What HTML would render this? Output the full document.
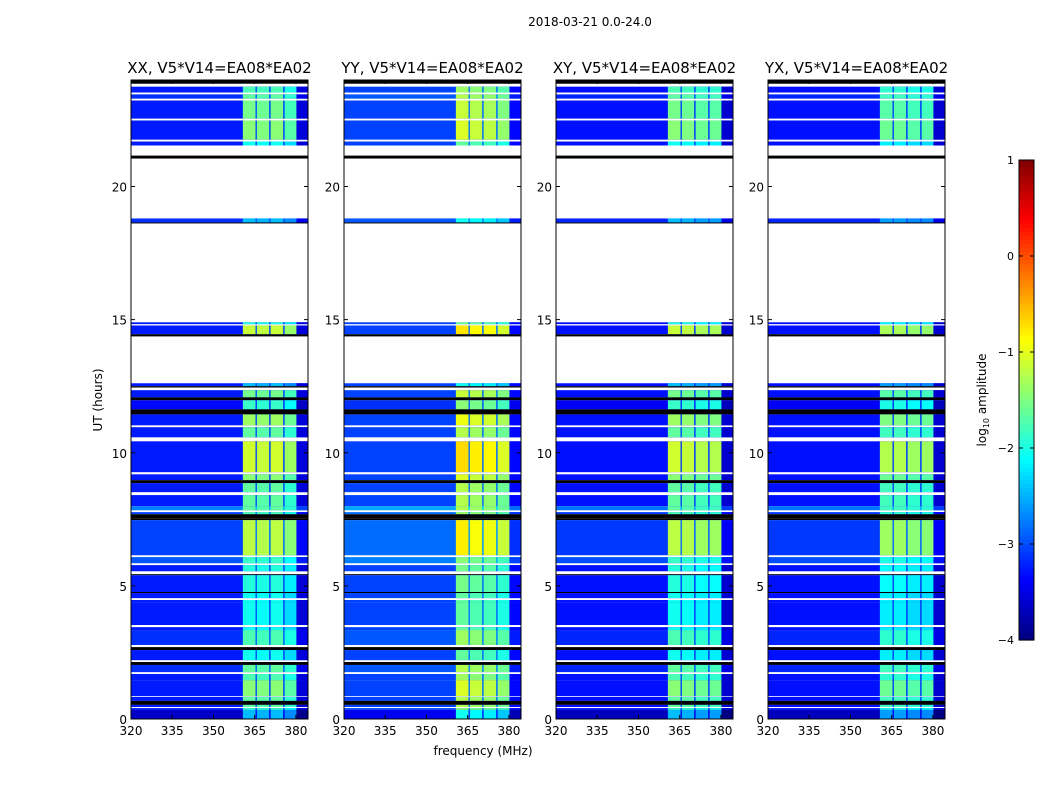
<!DOCTYPE html>
<html><head><meta charset="utf-8">
<style>
body{margin:0;background:#fff;}
svg{display:block;font-family:"DejaVu Sans","Liberation Sans",sans-serif;}
</style></head>
<body>
<svg id="fig" width="1050" height="800" viewBox="0 0 1050 800">
<rect width="1050" height="800" fill="#fff"/>
<text x="590" y="26" font-size="12" text-anchor="middle">2018-03-21 0.0-24.0</text>
<text x="483" y="755" font-size="12" text-anchor="middle">frequency (MHz)</text>
<text x="0" y="0" font-size="12" text-anchor="middle" transform="translate(102,400) rotate(-90)">UT (hours)</text>
<g id="panels"></g>
<g id="cbar"></g>
</svg>
<script>
// ---- data ----
const panelTitles = ["XX, V5*V14=EA08*EA02","YY, V5*V14=EA08*EA02","XY, V5*V14=EA08*EA02","YX, V5*V14=EA08*EA02"];
const panelBackground = [-3.25, -3.05, -3.3, -3.3];
const bandLevels = [[-1.45,-1.5,-1.45,-1.7],[-1.05,-1.15,-1.2,-1.4],[-1.45,-1.5,-1.6,-1.6],[-1.6,-1.6,-1.7,-1.7]];
const bandStart = [360.7, 365.8, 370.8, 375.9];
const bandEnd = [365.3, 370.3, 375.4, 380.2];
const xTicks = [320,335,350,365,380];
const yTicks = [0,5,10,15,20];
const cbarTicks = [1,0,-1,-2,-3,-4];
// rows: top hour, bottom hour, kind (d=data, w=no data, k=flagged), background offset, band boost
const rowTop =    [24.0,23.86,23.75,23.53,23.46,23.30,23.23,22.55,22.48,21.76,21.69,21.54,21.16,21.05,18.80,18.65,18.62,14.90,14.83,14.78,14.45,14.37,12.61,12.50,12.45,12.35,12.08,11.97,11.63,11.44,11.03,10.96,10.58,10.43,9.27,9.19,8.97,8.86,8.52,8.41,7.99,7.84,7.77,7.69,7.54,7.47,6.15,6.08,5.85,5.78,5.55,5.44,5.40,4.77,4.73,4.54,4.47,4.39,3.53,3.45,3.34,2.78,2.70,2.59,2.21,2.14,2.03,1.76,1.69,1.46,0.86,0.83,0.68,0.53,0.45,0.41,0.34];
const rowBottom = [23.86,23.75,23.53,23.46,23.30,23.23,22.55,22.48,21.76,21.69,21.54,21.16,21.05,18.80,18.65,18.62,14.90,14.83,14.78,14.45,14.37,12.61,12.50,12.45,12.35,12.08,11.97,11.63,11.44,11.03,10.96,10.58,10.43,9.27,9.19,8.97,8.86,8.52,8.41,7.99,7.84,7.77,7.69,7.54,7.47,6.15,6.08,5.85,5.78,5.55,5.44,5.40,4.77,4.73,4.54,4.47,4.39,3.53,3.45,3.34,2.78,2.70,2.59,2.21,2.14,2.03,1.76,1.69,1.46,0.86,0.83,0.68,0.53,0.45,0.41,0.34,0.0];
const rowKind =   ["k","w","d","w","d","w","d","w","d","w","d","w","k","w","d","k","w","d","w","d","k","w","d","k","w","d","k","d","k","d","w","d","w","d","w","d","k","d","w","d","d","w","d","k","k","d","w","d","w","d","w","k","d","k","d","w","d","d","w","d","d","w","k","d","w","k","d","w","d","d","w","d","k","d","w","d","d"];
const rowBg =     [0,0,0,0,0.1,0,0,0,0,0,0,0,0,0,0.1,0,0,0,0,0,0,0,0,0,0,0,0,-0.1,0,0,0,0,0,0,0,0,0,0,0,0,0.5,0,0.2,0,0,0.2,0,0.3,0,0,0,0,0,0,0,0,0,0,0,0,0.1,0,0,0,0,0,0.1,0,0,0,0,0,0,0,0,0,-0.4];
const rowBoost =  [0,0,-0.3,0,-0.2,0,-0.1,0,0,0,-0.6,0,0,0,-1.0,0,0,-0.5,0,0.3,0,0,-1.0,0,0,-0.1,0,-0.4,0,0.1,0,-0.2,0,0.35,0,0.0,0,-0.2,0,-0.2,-0.2,0,-0.3,0,0,0.25,0,-0.4,0,-0.5,0,0,-0.5,0,-0.6,0,-0.6,-0.6,0,-0.6,-0.3,0,0,-0.6,0,0,-0.2,0,-0.3,0,0,-0.2,0,-0.2,0,-0.4,-1.0];

// ---- axes ----
const P = {lefts:[131,344,556,768], w:177, top:80, h:639, fmin:320, fmax:384.4, hmin:0, hmax:24};
const xs = (f, i) => P.lefts[i] + (f - P.fmin) / (P.fmax - P.fmin) * P.w;
const ys = (h) => P.top + (P.hmax - h) / (P.hmax - P.hmin) * P.h;
function jet(v){
  let t = Math.max(0, Math.min(1, (v + 4) / 5));
  const c = x => Math.round(255 * Math.max(0, Math.min(1, 1.5 - Math.abs(4 * t - x))));
  return `rgb(${c(3)},${c(2)},${c(1)})`;
}
const NS = "http://www.w3.org/2000/svg";
function mk(tag, attrs, parent){ const e = document.createElementNS(NS, tag); for (const k in attrs) e.setAttribute(k, attrs[k]); parent.appendChild(e); return e; }
const panels = document.getElementById('panels');
panelTitles.forEach((title, p) => {
  const g = mk('g', {}, panels);
  
  
  const L = P.lefts[p];
  for (let r = 0; r < rowTop.length; r++) {
    const y0 = ys(rowTop[r]), y1 = ys(rowBottom[r]);
    if (rowKind[r] === 'w') continue;
    if (rowKind[r] === 'k') {
      const b = mk('rect', {x:L, y:y0, width:P.w, height:Math.max(1, y1-y0), fill:'#000'}, g);
      
      
      continue;
    }
    const bg = panelBackground[p] + rowBg[r];
    const row = mk('rect', {x:L, y:y0, width:P.w, height:Math.max(1, y1-y0), fill:jet(bg)}, g);
    
    
    for (let b = 0; b < bandStart.length; b++) {
      const v = bandLevels[p][b] + rowBoost[r];
      const x0 = xs(bandStart[b], p), x1 = xs(bandEnd[b], p);
      const cell = mk('rect', {x:x0, y:y0, width:x1-x0, height:Math.max(1, y1-y0), fill:jet(v)}, g);
      
      
      if (b < bandStart.length - 1) {
        const s = mk('rect', {x:x1, y:y0, width:xs(bandStart[b+1], p)-x1, height:Math.max(1, y1-y0), fill:jet(bg + 0.25)}, g);
        
        
      }
    }
    const e = mk('rect', {x:xs(bandEnd[3], p), y:y0, width:L+P.w-xs(bandEnd[3], p), height:Math.max(1, y1-y0), fill:jet(bg - 0.3)}, g);
    
    
  }
  const fr = mk('rect', {x:L, y:P.top, width:P.w, height:P.h, fill:'none', stroke:'#000', 'stroke-width':1}, g);
  
  
  const t = mk('text', {x:L + P.w/2, y:73, 'font-size':15, 'text-anchor':'middle'}, g);
  t.textContent = title;
  
  
  xTicks.forEach(f => {
    const x = xs(f, p);
    mk('line', {x1:x, x2:x, y1:P.top+P.h, y2:P.top+P.h-4, stroke:'#000'}, g);
    mk('line', {x1:x, x2:x, y1:P.top, y2:P.top+4, stroke:'#000'}, g);
    const lt = mk('text', {x:x, y:735, 'font-size':12, 'text-anchor':'middle'}, g);
    lt.textContent = f;
    
    
  });
  yTicks.forEach(h => {
    const y = ys(h);
    mk('line', {x1:L, x2:L+4, y1:y, y2:y, stroke:'#000'}, g);
    mk('line', {x1:L+P.w, x2:L+P.w-4, y1:y, y2:y, stroke:'#000'}, g);
    const lt = mk('text', {x:L-4, y:y+5, 'font-size':12, 'text-anchor':'end'}, g);
    lt.textContent = h;
    
    
  });
});
// colorbar
const cb = document.getElementById('cbar');
const CB = {x:1019, w:15, top:160, h:480, vmin:-4, vmax:1};
const cy = v => CB.top + (CB.vmax - v) / (CB.vmax - CB.vmin) * CB.h;
for (let i = 0; i < 120; i++) {
  const v = CB.vmax - (i + 0.5) * (CB.vmax - CB.vmin) / 120;
  mk('rect', {x:CB.x, y:CB.top + i*CB.h/120, width:CB.w, height:CB.h/120 + 0.6, fill:jet(v)}, cb);
}
mk('rect', {x:CB.x, y:CB.top, width:CB.w, height:CB.h, fill:'none', stroke:'#000'}, cb);
cbarTicks.forEach(v => {
  const y = cy(v);
  mk('line', {x1:CB.x, x2:CB.x+4, y1:y, y2:y, stroke:'#000'}, cb);
  mk('line', {x1:CB.x+CB.w, x2:CB.x+CB.w-4, y1:y, y2:y, stroke:'#000'}, cb);
  const t = mk('text', {x:CB.x-5, y:y+4, 'font-size':11, 'text-anchor':'end'}, cb);
  t.textContent = v < 0 ? '\u2212' + (-v) : String(v);
  
  
});
const cl = mk('text', {'font-size':12, 'text-anchor':'middle', transform:'translate(986,400) rotate(-90)'}, cb);
cl.innerHTML = 'log<tspan font-size="8" dy="3">10</tspan><tspan dy="-3"> amplitude</tspan>';


</script>
</body></html>
